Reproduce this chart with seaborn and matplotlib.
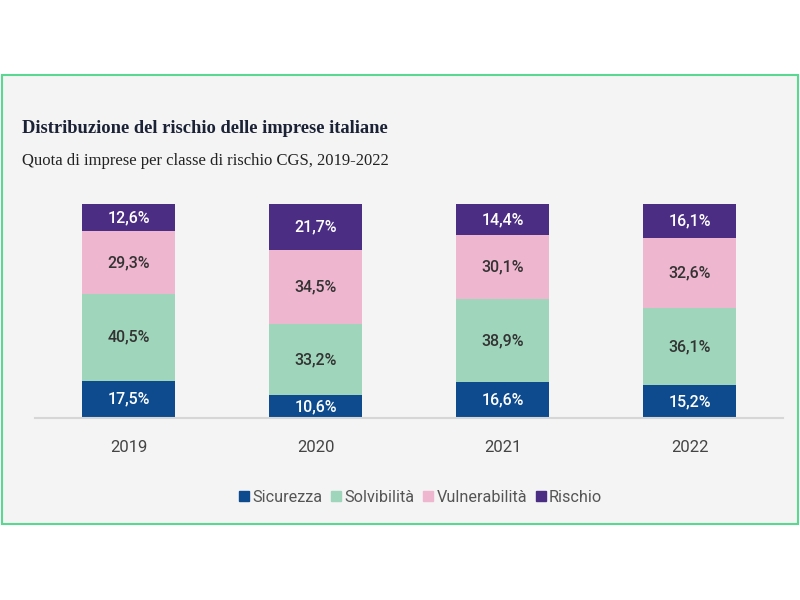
import numpy as np
import pandas as pd
import matplotlib
matplotlib.use("Agg")
import matplotlib.pyplot as plt
import seaborn as sns
from matplotlib.patches import Rectangle
from matplotlib.lines import Line2D

# dati
anni = ["2019", "2020", "2021", "2022"]
classi = ["Sicurezza", "Solvibilità", "Vulnerabilità", "Rischio"]
sicurezza = [17.5, 10.6, 16.6, 15.2]
solvibilita = [40.5, 33.2, 38.9, 36.1]
vulnerabilita = [29.3, 34.5, 30.1, 32.6]
rischio = [12.6, 21.7, 14.4, 16.1]

colori = ["#0d4b8e", "#9fd5bb", "#efb6cf", "#4b2d84"]
colori_testo = ["white", "#333333", "#333333", "white"]

sns.set_theme(style="white")
plt.rcParams['font.family'] = ['Roboto', 'DejaVu Sans']

df = pd.DataFrame({"anno": anni, "Sicurezza": sicurezza, "Solvibilità": solvibilita,
                   "Vulnerabilità": vulnerabilita, "Rischio": rischio})

fig = plt.figure(figsize=(8, 6), dpi=100)
fig.patch.set_facecolor("white")
# cornice verde e pannello grigio
fig.add_artist(Rectangle((0.002, 1 - 524 / 600), 0.995, (524 - 75) / 600, transform=fig.transFigure,
                         facecolor="#f4f4f4", edgecolor="#5ad892", linewidth=1.5, zorder=0))

ax = fig.add_axes([35 / 800, 1 - 418 / 600, 748 / 800, 214 / 600])
ax.set_facecolor("none")

bottom = np.zeros(len(anni))
for classe, col, tcol in zip(classi, colori, colori_testo):
    vals = df[classe].values
    sns.barplot(x=df["anno"], y=vals, bottom=bottom, color=col, width=0.5,
                saturation=1, ax=ax, linewidth=0)
    for i, v in enumerate(vals):
        ax.text(i, bottom[i] + v / 2, f"{v:.1f}%".replace(".", ","), ha="center", va="center",
                color=tcol, fontsize=11.5, fontweight="medium")
    bottom = bottom + vals

ax.set_xlim(-0.5, 3.5)
ax.set_ylim(0, 100)
ax.set_yticks([])
ax.set_xlabel("")
ax.set_ylabel("")
for s in ["top", "right", "left"]:
    ax.spines[s].set_visible(False)
ax.spines["bottom"].set_color("#d6d6d6")
ax.spines["bottom"].set_linewidth(1.5)
ax.tick_params(axis="x", length=0, pad=16, labelsize=12, labelcolor="#444444")

fig.text(22 / 800, 1 - 133 / 600, "Distribuzione del rischio delle imprese italiane",
         family="Liberation Serif", fontweight="bold", fontsize=13.3, color="#1b2236")
fig.text(22 / 800, 1 - 165 / 600, "Quota di imprese per classe di rischio CGS, 2019-2022",
         family="Liberation Serif", fontsize=12, color="#222222")

handles = [Line2D([0], [0], marker="s", linestyle="", markersize=7.5, color=c) for c in colori]
fig.legend(handles, classi, loc="center", bbox_to_anchor=(420 / 800, 1 - 497 / 600), ncol=4,
           frameon=False, fontsize=11.7, handletextpad=0.1, columnspacing=0.45,
           handlelength=0.8, labelcolor="#555555")

fig.savefig("out.png", dpi=100)
